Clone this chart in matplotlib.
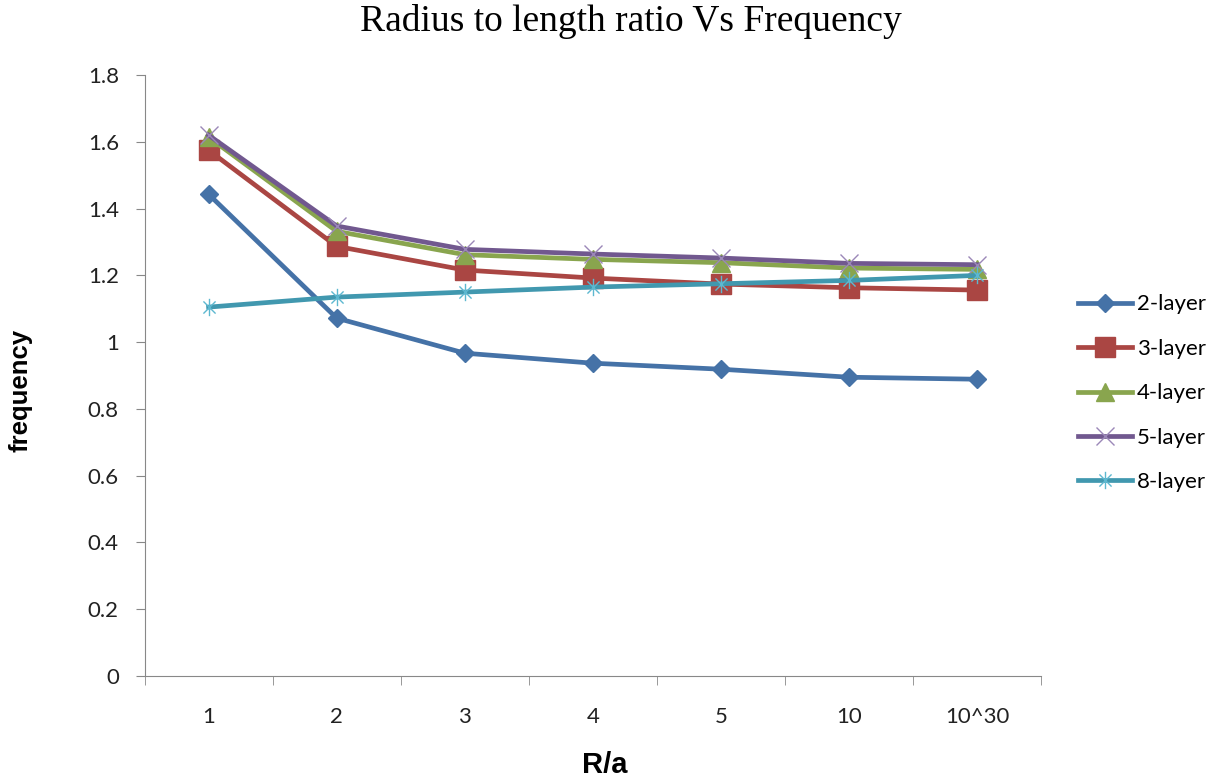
import matplotlib
matplotlib.use('Agg')
import matplotlib.pyplot as plt
from matplotlib.path import Path
import numpy as np

categories = ['1', '2', '3', '4', '5', '10', '10^30']
layer2 = [1.443, 1.072, 0.967, 0.937, 0.919, 0.895, 0.889]
layer3 = [1.575, 1.287, 1.216, 1.192, 1.174, 1.163, 1.156]
layer4 = [1.614, 1.332, 1.262, 1.248, 1.238, 1.222, 1.218]
layer5 = [1.620, 1.348, 1.278, 1.264, 1.252, 1.236, 1.232]
layer8 = [1.105, 1.135, 1.150, 1.165, 1.175, 1.185, 1.200]

plt.rcParams['font.family'] = ['Lato', 'DejaVu Sans']

star = Path([(0, -1), (0, 1), (-0.7, -0.7), (0.7, 0.7), (-0.7, 0.7), (0.7, -0.7)],
            [Path.MOVETO, Path.LINETO, Path.MOVETO, Path.LINETO, Path.MOVETO, Path.LINETO])

fig = plt.figure(figsize=(12.25, 7.82), dpi=100)
ax = fig.add_axes([0.118, 0.1355, 0.732, 0.7685])

x = np.arange(len(categories))
lw = 3.4
ax.plot(x, layer2, color='#4572A7', lw=lw, marker='D', ms=9, label='2-layer')
ax.plot(x, layer3, color='#AA4643', lw=lw, marker='s', ms=14, label='3-layer')
ax.plot(x, layer4, color='#89A54E', lw=lw, marker='^', ms=12.5, label='4-layer')
ax.plot(x, layer5, color='#71588F', lw=lw, marker='x', ms=13.5, mew=1,
        mec='#9B88B8', label='5-layer')
ax.plot(x, layer8, color='#4198AF', lw=lw, marker=star, ms=12.5, mew=1,
        mec='#5DB8D0', label='8-layer')

ax.set_xlim(-0.5, len(categories) - 0.5)
ax.set_ylim(0, 1.8)
ax.set_yticks(np.arange(0, 1.81, 0.2))
ax.set_yticklabels(['0', '0.2', '0.4', '0.6', '0.8', '1', '1.2', '1.4', '1.6', '1.8'])
ax.set_xticks(x)
ax.set_xticklabels(categories)
ax.set_xticks(np.arange(-0.5, len(categories), 1), minor=True)
ax.tick_params(axis='x', which='major', length=0, pad=22, labelsize=16, colors='#222222')
ax.tick_params(axis='x', which='minor', length=6.5, color='#888888', direction='out')
ax.tick_params(axis='y', length=6.5, color='#888888', direction='out', labelsize=16,
               labelcolor='#222222', pad=12)
for s in ['top', 'right']:
    ax.spines[s].set_visible(False)
for s in ['left', 'bottom']:
    ax.spines[s].set_color('#888888')

fig.text(0.515, 0.972, 'Radius to length ratio Vs Frequency', family='Liberation Serif',
         fontsize=27, ha='center', va='center')
fig.text(0.017, 0.501, 'frequency', family='Liberation Sans', fontsize=18.5,
         fontweight='bold', rotation=90, ha='center', va='center')
fig.text(0.494, 0.022, 'R/a', family='Liberation Sans', fontsize=21,
         fontweight='bold', ha='center', va='center')

fig.legend(loc='center left', bbox_to_anchor=(0.880, 0.497), frameon=False,
           borderpad=0, borderaxespad=0,
           fontsize=16, handlelength=2.45, labelspacing=1.1, handletextpad=0.2)

fig.savefig('out.png', dpi=100)
